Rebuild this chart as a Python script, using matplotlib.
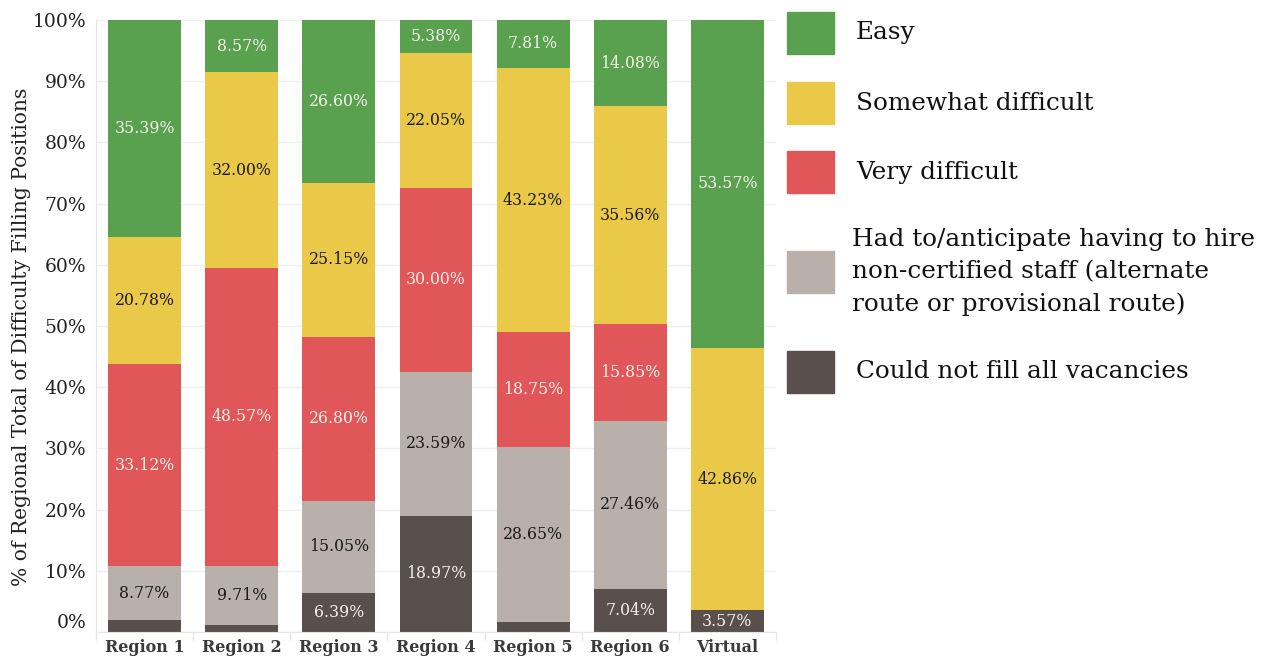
import matplotlib.pyplot as plt
from matplotlib.patches import Rectangle
from matplotlib.ticker import FixedLocator

plt.rcParams['font.family'] = ['DejaVu Serif']

# Share of responses per region (percent), bottom to top of each bar
regions = ["Region 1", "Region 2", "Region 3", "Region 4", "Region 5", "Region 6", "Virtual"]
could_not_fill = [1.94, 1.15, 6.39, 18.97, 1.56, 7.04, 3.57]
non_certified = [8.77, 9.71, 15.05, 23.59, 28.65, 27.46, 0.0]
very_difficult = [33.12, 48.57, 26.80, 30.00, 18.75, 15.85, 0.0]
somewhat_difficult = [20.78, 32.00, 25.15, 22.05, 43.23, 35.56, 42.86]
easy = [35.39, 8.57, 26.60, 5.38, 7.81, 14.08, 53.57]

series = [
    ("Could not fill all vacancies", could_not_fill, "#594f4c", "#f4f1ea"),
    ("Had to/anticipate having to hire\nnon-certified staff (alternate\nroute or provisional route)",
     non_certified, "#b9b0ab", "#1a1a1a"),
    ("Very difficult", very_difficult, "#e15759", "#f7efe8"),
    ("Somewhat difficult", somewhat_difficult, "#ebc948", "#1a1a1a"),
    ("Easy", easy, "#59a14f", "#f4f1ea"),
]

fig = plt.figure(figsize=(12.71, 6.6), dpi=100)
ax = fig.add_axes([0.0755, 0.0424, 0.535, 0.9273])

x = list(range(len(regions)))
bottom = [0.0] * len(regions)
for name, vals, color, txt in series:
    ax.bar(x, vals, width=0.75, bottom=bottom, color=color, edgecolor="none", zorder=2)
    for i, v in enumerate(vals):
        if v >= 3:
            ax.text(i, bottom[i] + v / 2, f"{v:.2f}%", ha="center", va="center",
                    fontsize=11.3, color=txt, zorder=3)
    bottom = [b + v for b, v in zip(bottom, vals)]

ax.set_xlim(-0.5, len(regions) - 0.5)
ax.set_ylim(0, 100)
ax.set_yticks(range(0, 101, 10))
ax.set_yticklabels([f"{t}%" for t in range(0, 101, 10)], fontsize=13.5, color="#222222")
ax.get_yticklabels()[0].set_va("bottom")
ax.set_xticks(x)
ax.set_xticklabels(regions, fontsize=11.5, fontweight="bold", color="#3a3a3a")
ax.xaxis.set_minor_locator(FixedLocator([i - 0.5 for i in range(len(regions) + 1)]))
ax.tick_params(axis="x", which="major", length=0, pad=5)
ax.tick_params(axis="x", which="minor", length=6, color="#e6e6e6", width=1)
ax.tick_params(axis="y", length=0, pad=7)
ax.grid(axis="y", color="#efefef", linewidth=1, zorder=0)
for side in ["top", "right"]:
    ax.spines[side].set_visible(False)
ax.spines["left"].set_color("#e6e6e6")
ax.spines["bottom"].set_color("#e6e6e6")
ax.set_ylabel("% of Regional Total of Difficulty Filling Positions", fontsize=14.6, color="#222222",
              va="center")
ax.yaxis.set_label_coords(-0.109, 0.482)

# legend drawn on the right in figure pixels
legend_rows = [
    ("Easy", "#59a14f", 33),
    ("Somewhat difficult", "#ebc948", 103),
    ("Very difficult", "#e15759", 172),
    ("Had to/anticipate having to hire\nnon-certified staff (alternate\nroute or provisional route)", "#b9b0ab", 272),
    ("Could not fill all vacancies", "#594f4c", 372),
]
W, H = 1271, 660
for label, color, yc in legend_rows:
    fig.add_artist(Rectangle(((787) / W, 1 - (yc + 21) / H), 47 / W, 42 / H,
                             transform=fig.transFigure, color=color))
    tx = 856 if "\n" not in label else 852
    fig.text(tx / W, 1 - yc / H, label, fontsize=17.8, va="center", ha="left",
             color="#111111", linespacing=1.5)

fig.savefig("out.png", dpi=100)
